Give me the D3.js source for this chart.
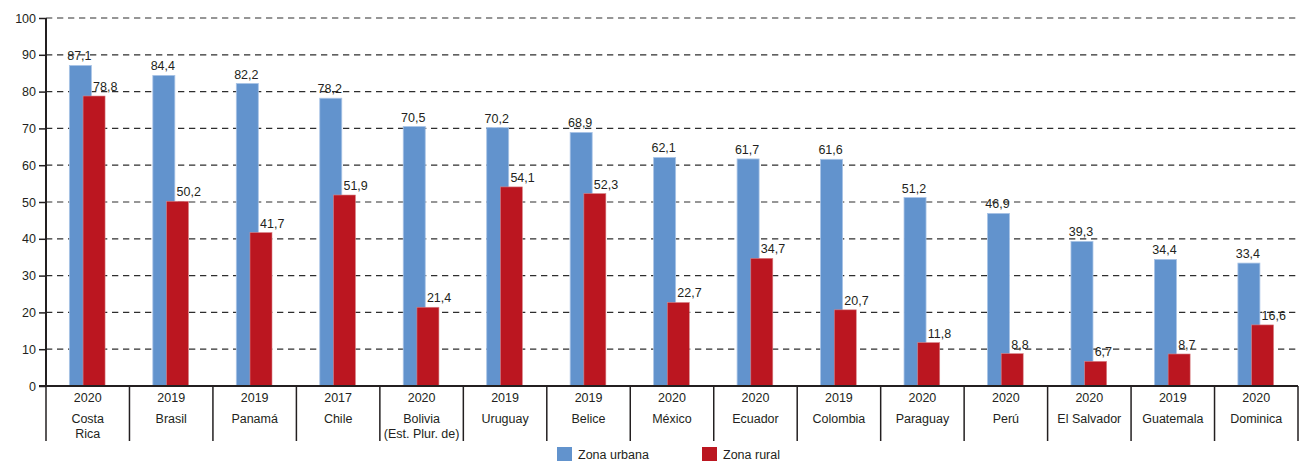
<!DOCTYPE html>
<html>
<head>
<meta charset="utf-8">
<script src="https://cdn.jsdelivr.net/npm/d3@7"></script>
<style>
  html, body { margin: 0; padding: 0; background: #fff; }
  svg { display: block; font-family: "Liberation Sans", Arial, sans-serif; }
</style>
</head>
<body>
<svg id="chart" width="1302" height="461"></svg>
<script>
const countries = ["Costa Rica", "Brasil", "Panamá", "Chile", "Bolivia (Est. Plur. de)", "Uruguay", "Belice", "México", "Ecuador", "Colombia", "Paraguay", "Perú", "El Salvador", "Guatemala", "Dominica"];
const countryLines = [["Costa", "Rica"], ["Brasil"], ["Panamá"], ["Chile"], ["Bolivia", "(Est. Plur. de)"], ["Uruguay"], ["Belice"], ["México"], ["Ecuador"], ["Colombia"], ["Paraguay"], ["Perú"], ["El Salvador"], ["Guatemala"], ["Dominica"]];
const years = ["2020", "2019", "2019", "2017", "2020", "2019", "2019", "2020", "2020", "2019", "2020", "2020", "2020", "2019", "2020"];
const urbana = [87.1, 84.4, 82.2, 78.2, 70.5, 70.2, 68.9, 62.1, 61.7, 61.6, 51.2, 46.9, 39.3, 34.4, 33.4];
const rural = [78.8, 50.2, 41.7, 51.9, 21.4, 54.1, 52.3, 22.7, 34.7, 20.7, 11.8, 8.8, 6.7, 8.7, 16.6];
const yTicks = [0, 10, 20, 30, 40, 50, 60, 70, 80, 90, 100];
const seriesNames = ["Zona urbana", "Zona rural"];
const colors = ["#6293cd", "#bb1620"];

(function () {
const svg = d3.select("#chart");
const pLeft = 46, pRight = 1298, pTop = 18, pBottom = 386;

const x = d3.scaleBand().domain(countries).range([pLeft, pRight]).padding(0);
const y = d3.scaleLinear().domain([0, 100]).range([pBottom, pTop]);
const bw = x.bandwidth();
const barW = 22;
const blueOff = bw * 0.28;
const redOff = blueOff + 13.7;
const fmt = v => v.toFixed(1).replace(".", ",");
const textColor = "#231f20";

// gridlines
svg.append("g").selectAll("line")
  .data(yTicks.filter(t => t > 0))
  .join("line")
  .attr("x1", pLeft).attr("x2", pRight)
  .attr("y1", d => y(d)).attr("y2", d => y(d))
  .attr("stroke", "#2e2e2e").attr("stroke-width", 1.2)
  .attr("stroke-dasharray", "6.3,4.7");

// y axis
const yAxis = svg.append("g").attr("transform", `translate(${pLeft},0)`)
  .call(d3.axisLeft(y).tickValues(yTicks).tickSize(7).tickPadding(3).tickFormat(d3.format("d")));
yAxis.select(".domain").attr("stroke", "#231f20").attr("stroke-width", 2).attr("d", `M0,${pTop}V${pBottom}`);
yAxis.selectAll(".tick line").attr("stroke", "#231f20").attr("stroke-width", 1.5);
yAxis.selectAll(".tick text").attr("fill", textColor).style("font-size", "12.5px").style("font-family", "'Liberation Sans', Arial, sans-serif");

// bars
const data = countries.map((c, i) => ({ c, i, u: urbana[i], r: rural[i] }));
const g = svg.append("g");
g.selectAll("rect.u").data(data).join("rect").attr("class", "u")
  .attr("x", d => x(d.c) + blueOff).attr("width", barW)
  .attr("y", d => y(d.u)).attr("height", d => y(0) - y(d.u))
  .attr("fill", colors[0]).attr("stroke", "#a9c4e6").attr("stroke-width", 0.8);
g.selectAll("rect.r").data(data).join("rect").attr("class", "r")
  .attr("x", d => x(d.c) + redOff).attr("width", barW)
  .attr("y", d => y(d.r)).attr("height", d => y(0) - y(d.r))
  .attr("fill", colors[1]).attr("stroke", "#d9868a").attr("stroke-width", 0.6);

// value labels
g.selectAll("text.ul").data(data).join("text").attr("class", "ul")
  .attr("x", d => x(d.c) + blueOff + barW / 2 - 1)
  .attr("y", d => y(d.u) - 5)
  .attr("text-anchor", "middle").attr("fill", textColor).style("font-size", "12.5px")
  .text(d => fmt(d.u));
g.selectAll("text.rl").data(data).join("text").attr("class", "rl")
  .attr("x", d => x(d.c) + redOff + barW / 2 - 1)
  .attr("y", d => y(d.r) - 5)
  .attr("text-anchor", "start").attr("fill", textColor).style("font-size", "12.5px")
  .text(d => fmt(d.r));

// x axis line
svg.append("line").attr("x1", pLeft - 7).attr("x2", pRight)
  .attr("y1", pBottom).attr("y2", pBottom)
  .attr("stroke", "#231f20").attr("stroke-width", 2);

// separators
const seps = countries.map(c => x(c)).concat([pRight]);
svg.append("g").selectAll("line").data(seps).join("line")
  .attr("x1", d => d).attr("x2", d => d)
  .attr("y1", pBottom).attr("y2", 441)
  .attr("stroke", "#231f20").attr("stroke-width", 1.5);

// category labels
const cl = svg.append("g");
cl.selectAll("text.yr").data(data).join("text").attr("class", "yr")
  .attr("x", d => x(d.c) + bw / 2).attr("y", 401.5)
  .attr("text-anchor", "middle").attr("fill", textColor).style("font-size", "12.5px")
  .text(d => years[d.i]);
cl.selectAll("text.cn").data(data).join("text").attr("class", "cn")
  .attr("x", d => x(d.c) + bw / 2).attr("y", 422.5)
  .attr("text-anchor", "middle").attr("fill", textColor).style("font-size", "12.5px")
  .each(function (d) {
    const t = d3.select(this);
    countryLines[d.i].forEach((ln, k) => {
      t.append("tspan").attr("x", x(d.c) + bw / 2).attr("dy", k === 0 ? 0 : 15.5).text(ln);
    });
  });

// legend
const legendX = [557, 702];
const lg = svg.append("g");
seriesNames.forEach((n, i) => {
  lg.append("rect").attr("x", legendX[i]).attr("y", 447).attr("width", 15).attr("height", 14).attr("fill", colors[i]);
  lg.append("text").attr("x", legendX[i] + 21).attr("y", 459).attr("fill", textColor)
    .style("font-size", "12.5px").text(n);
});
})();
</script>
</body>
</html>
